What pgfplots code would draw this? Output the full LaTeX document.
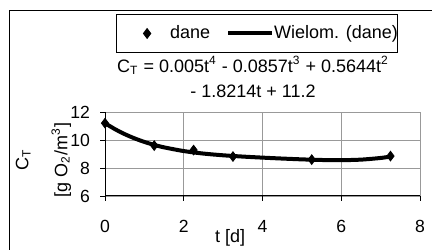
\documentclass[border=0pt]{standalone}
\usepackage{fontspec}
\setmainfont{Liberation Sans}
\usepackage{pgfplots}
\pgfplotsset{compat=1.18}
\begin{document}
\begin{tikzpicture}
\path[use as bounding box] (0,0) rectangle (216pt,125pt);
\fill[white] (0,0) rectangle (216pt,125pt);
\draw[black,line width=0.5pt] (4.5pt,0) -- (4.5pt,119.5pt) -- (216pt,119.5pt);
\begin{axis}[
  at={(52.5pt,27pt)}, anchor=south west,
  scale only axis, width=157.5pt, height=42pt,
  xmin=0, xmax=8, ymin=6, ymax=12,
  xtick={0,2,4,6,8}, ytick={6,8,10,12},
  grid=major, grid style={gray!80, line width=0.4pt},
  axis lines*=left, axis line style={-, black, line width=0.5pt},
  tick align=outside, major tick length=2.5pt,
  tick style={black, line width=0.4pt},
  xtick pos=bottom, ytick pos=left,
  /pgf/number format/assume math mode=true,
  ticklabel style={font=\fontsize{8.8}{10}\selectfont},
  xticklabel style={yshift=-6pt},
  yticklabel style={xshift=-1.5pt},
  label style={font=\fontsize{9}{11}\selectfont},
  xlabel={t [d]},
  xlabel style={at={(axis description cs:0.397,0)}, anchor=center, yshift=-21pt},
  ylabel={C\textsubscript{T}\\[8.5pt][g O\textsubscript{2}/m\textsuperscript{3}]},
  ylabel style={at={(axis description cs:-0.195,0.43)}, anchor=center, align=center},
  legend columns=2,
  legend style={at={(axis description cs:0.4825,1.9345)}, anchor=center,
    draw=black, line width=0.5pt, font=\fontsize{9}{11}\selectfont,
    inner xsep=0pt, inner ysep=3.5pt, nodes={inner xsep=0pt},
    /tikz/every even column/.append style={column sep=8pt}},
  clip=false,
]
\addplot[only marks, mark=diamond*, mark size=2.4pt, black,
  legend image code/.code={\path[draw=none,fill=none] (0pt,0pt) -- (27pt,0pt);
    \begin{scope}[shift={(15.5pt,0pt)}, black, fill=black]\pgfsetplotmarksize{2.4pt}\pgfuseplotmark{diamond*}\end{scope}}]
  coordinates {
  (0,11.2) (1.25,9.6) (2.25,9.28) (3.25,8.82) (5.25,8.6) (7.25,8.85)
};
\addlegendentry{dane}
\addplot[black, line width=2pt, smooth,
  legend image code/.code={\draw[black,line width=2pt] (0pt,0pt) -- (22pt,0pt);}]
  coordinates {
  (0,11.2) (0.25,10.779) (0.5,10.42) (0.75,10.117) (1,9.862) (1.25,9.650)
  (1.5,9.474) (2,9.209) (2.5,9.030) (3,8.907) (3.5,8.815) (4,8.740)
  (4.5,8.674) (5,8.616) (5.5,8.572) (6,8.559) (6.5,8.597) (7,8.716) (7.25,8.817)
};
\addlegendentry{Wielom. (dane)\hspace{5pt}}
\end{axis}
\node[align=center, font=\fontsize{9}{11}\selectfont] at (126.5pt,86.5pt)
  {C\textsubscript{T} = 0.005t\textsuperscript{4} - 0.0857t\textsuperscript{3} + 0.5644t\textsuperscript{2}\\[1.5pt]- 1.8214t + 11.2};
\end{tikzpicture}
\end{document}
